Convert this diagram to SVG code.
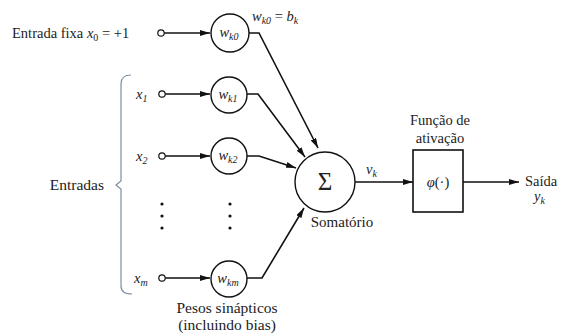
<svg xmlns="http://www.w3.org/2000/svg" width="566" height="335" viewBox="0 0 566 335">
<defs>
<marker id="ah" viewBox="0 0 10 6" refX="10" refY="3" markerWidth="10" markerHeight="6" markerUnits="userSpaceOnUse" orient="auto">
<path d="M0,0 L10,3 L0,6 Z" fill="#111"/>
</marker>
</defs>
<style>
.t{font-family:'Liberation Serif','DejaVu Serif',serif;font-size:14.5px;fill:#222}
.i{font-style:italic}
.s{font-size:10px}
.ln{fill:none;stroke:#111;stroke-width:1.6}
.nd{fill:#fff;stroke:#111;stroke-width:1.4}
.ic{fill:#fff;stroke:#111;stroke-width:1.2}
.br{fill:none;stroke:#7f8ea6;stroke-width:1.2}
.big{font-size:25px}
</style>
<rect width="566" height="335" fill="#fff"/>

<g id="connectors">
<line class="ln" x1="164" y1="33" x2="210" y2="33" marker-end="url(#ah)"/>
<line class="ln" x1="165" y1="94" x2="210" y2="94" marker-end="url(#ah)"/>
<line class="ln" x1="165" y1="156" x2="210" y2="156" marker-end="url(#ah)"/>
<line class="ln" x1="165" y1="278" x2="210" y2="278" marker-end="url(#ah)"/>
<polyline class="ln" points="249,33 259,33 318,148" marker-end="url(#ah)"/>
<polyline class="ln" points="247,94 258,94 305,157" marker-end="url(#ah)"/>
<polyline class="ln" points="247,156 259,156 296,168" marker-end="url(#ah)"/>
<polyline class="ln" points="247,278 262,278 304,208" marker-end="url(#ah)"/>
<line class="ln" x1="355" y1="182" x2="413" y2="182" marker-end="url(#ah)"/>
<line class="ln" x1="463" y1="182" x2="519" y2="182" marker-end="url(#ah)"/>
</g>

<g id="bias-input">
<text class="t" x="12" y="38">Entrada fixa <tspan class="i">x</tspan><tspan class="s" dy="3">0</tspan><tspan dy="-3"> = +1</tspan></text>
<circle class="ic" cx="161" cy="33" r="3.2"/>
</g>
<g id="input-x1">
<text class="t i" x="136" y="99">x<tspan class="s" dy="3">1</tspan></text>
<circle class="ic" cx="162" cy="94" r="3.2"/>
</g>
<g id="input-x2">
<text class="t i" x="136" y="161">x<tspan class="s" dy="3">2</tspan></text>
<circle class="ic" cx="162" cy="156" r="3.2"/>
</g>
<g id="input-xm">
<text class="t i" x="134" y="283">x<tspan class="s" dy="3">m</tspan></text>
<circle class="ic" cx="162" cy="278" r="3.2"/>
</g>
<g id="dots" fill="#111">
<circle cx="162" cy="204" r="1.6"/><circle cx="162" cy="216" r="1.6"/><circle cx="162" cy="228" r="1.6"/>
<circle cx="230" cy="204" r="1.6"/><circle cx="230" cy="216" r="1.6"/><circle cx="230" cy="228" r="1.6"/>
</g>

<g id="w-k0">
<circle class="nd" cx="230" cy="33" r="19"/>
<text class="t i" x="229" y="37" text-anchor="middle">w<tspan class="s" dy="3">k0</tspan></text>
<text class="t i" x="252" y="21">w<tspan class="s" dy="3">k0</tspan><tspan dy="-3" font-style="normal"> = </tspan>b<tspan class="s" dy="3">k</tspan></text>
</g>
<g id="w-k1">
<circle class="nd" cx="229" cy="95" r="18"/>
<text class="t i" x="228" y="99" text-anchor="middle">w<tspan class="s" dy="3">k1</tspan></text>
</g>
<g id="w-k2">
<circle class="nd" cx="229" cy="156" r="18"/>
<text class="t i" x="228" y="160" text-anchor="middle">w<tspan class="s" dy="3">k2</tspan></text>
</g>
<g id="w-km">
<circle class="nd" cx="229" cy="279" r="18"/>
<text class="t i" x="228" y="283" text-anchor="middle">w<tspan class="s" dy="3">km</tspan></text>
</g>
<g id="weights-label">
<text class="t" x="227" y="313" text-anchor="middle" style="font-size:15.5px">Pesos sinápticos</text>
<text class="t" x="227" y="330" text-anchor="middle" style="font-size:15.5px">(incluindo bias)</text>
</g>

<g id="entradas">
<path class="br" d="M131,75 Q121,75 121,84 L121,181 L116,185 L121,189 L121,286 Q121,294 132,294"/>
<text class="t" x="104" y="190" text-anchor="end" style="font-size:15.5px">Entradas</text>
</g>

<g id="somatorio">
<circle class="nd" cx="325" cy="182" r="30"/>
<text class="t big" x="325" y="190" text-anchor="middle">Σ</text>
<text class="t" x="342" y="227" text-anchor="middle" style="font-size:15px">Somatório</text>
</g>
<text class="t i" x="366" y="174">v<tspan class="s" dy="3">k</tspan></text>

<g id="ativacao">
<rect x="413" y="150" width="50" height="62" fill="#fff" stroke="#111" stroke-width="1.6"/>
<text class="t" x="438" y="187" text-anchor="middle"><tspan class="i">φ</tspan>(·)</text>
<text class="t" x="440" y="125" text-anchor="middle">Função de</text>
<text class="t" x="440" y="143" text-anchor="middle">ativação</text>
</g>

<g id="saida">
<text class="t" x="525" y="186">Saída</text>
<text class="t i" x="534" y="201">y<tspan class="s" dy="3">k</tspan></text>
</g>
</svg>
